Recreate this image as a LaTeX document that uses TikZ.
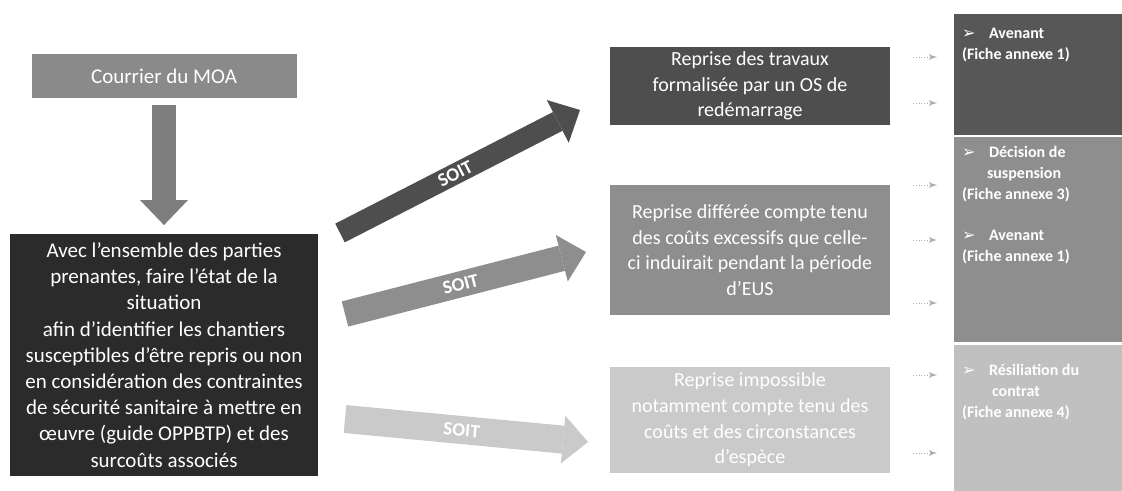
\documentclass[tikz,border=0pt]{standalone}
\usepackage{fontspec}
\setmainfont{Carlito}
\newfontfamily\symfont{DejaVu Sans}
\usetikzlibrary{positioning, arrows, arrows.meta}

\definecolor{moagray}{HTML}{8A8A8A}
\definecolor{downgray}{HTML}{7E7E7E}
\definecolor{maindark}{HTML}{2B2B2B}
\definecolor{soitdark}{HTML}{4E4E4E}
\definecolor{soitmid}{HTML}{8E8E8E}
\definecolor{soitlight}{HTML}{CACACA}

\begin{document}
\begin{tikzpicture}[x=0.5pt, y=-0.5pt]
		% Styles
		\tikzstyle{box} = [rectangle, inner sep=0pt, text=white, align=center,
		font=\fontsize{10}{12.8}\selectfont]
		\tikzstyle{moabox} = [box, fill=moagray, minimum width=132.5pt, minimum height=22pt,
		font=\fontsize{10.5}{13}\selectfont]
		\tikzstyle{mainbox} = [box, fill=maindark, minimum width=154pt, minimum height=120.5pt,
		font=\fontsize{10.5}{13.1}\selectfont]
		\tikzstyle{midbox} = [box, minimum width=140pt]
		\tikzstyle{sidebox} = [rectangle, inner sep=0pt, minimum width=84pt]
		\tikzstyle{sidetext} = [inner sep=0pt, text=white, align=left,
		font=\bfseries\fontsize{8}{10.5}\selectfont]
		\tikzstyle{bigarrow} = [line width=12pt, -{Triangle[length=12.5pt, width=24pt, line width=0pt]}]
		\tikzstyle{soit} = [sloped, text=white, inner sep=0pt, font=\bfseries\fontsize{9.5}{10}\selectfont]
		\tikzstyle{dotline} = [draw=gray!65, densely dotted, -latex']
		\newcommand{\puce}{\makebox[13.5pt][l]{\symfont ➢}}
		
		\useasboundingbox (0,0) rectangle (1122,491);
		
		% Nodes
		\node [moabox] (moa) at (164,76) {Courrier du MOA};
		\node [mainbox] (main) at (164,355) {Avec l’ensemble des parties\\prenantes, faire l’état de la\\situation\\afin d’identifier les chantiers\\susceptibles d’être repris ou non\\en considération des contraintes\\de sécurité sanitaire à mettre en\\œuvre (guide OPPBTP) et des\\surcoûts associés};
		
		\node [midbox, fill=soitdark, minimum height=39pt] (reprise) at (750,86) {Reprise des travaux\\formalisée par un OS de\\redémarrage};
		\node [midbox, fill=soitmid, minimum height=65pt] (differee) at (750,250) {Reprise différée compte tenu\\des coûts excessifs que celle-\\ci induirait pendant la période\\d’EUS};
		\node [midbox, fill=soitlight, minimum height=53pt] (impossible) at (750,420) {Reprise impossible\\notamment compte tenu des\\coûts et des circonstances\\d’espèce};
		
		\node [sidebox, fill=soitdark!95, minimum height=60.5pt] (avenant) at (1038,74.5) {};
		\node [sidebox, fill=soitmid, minimum height=102.5pt] (suspension) at (1038,239.5) {};
		\node [sidebox, fill=soitlight!95!black, minimum height=73pt] (resiliation) at (1038,418) {};
		
		\node [sidetext, below right=7pt and 4pt of avenant.north west] (avenanttxt) {\puce Avenant\\(Fiche annexe 1)};
		\node [sidetext, below right=4.5pt and 4pt of suspension.north west] (suspensiontxt) {\puce Décision de\\\hspace*{12.5pt}suspension\\(Fiche annexe 3)\\[10pt]\puce Avenant\\(Fiche annexe 1)};
		\node [sidetext, below right=9.5pt and 4pt of resiliation.north west] (resiliationtxt) {\puce Résiliation du\\\hspace*{15pt}contrat\\(Fiche annexe 4)};
		
		\coordinate (d1) at (340,233);
		\coordinate (f1) at (580,110);
		\coordinate (d2) at (345,314);
		\coordinate (f2) at (586,252);
		\coordinate (d3) at (345,419);
		\coordinate (f3) at (588,442);
		
		% Connections
		\draw [bigarrow, draw=downgray, shorten <=3.5pt, shorten >=4.5pt] (moa) -- (main);
		\draw [bigarrow, draw=soitdark, line width=10.5pt] (d1) -- (f1) node [soit, pos=0.48] (soit1) {SOIT};
		\draw [bigarrow, draw=soitmid, line width=13pt] (d2) -- (f2) node [soit, pos=0.48] (soit2) {SOIT};
		\draw [bigarrow, draw=soitlight, line width=14pt] (d3) -- (f3) node [soit, pos=0.48] (soit3) {SOIT};
		
		\foreach \y [count=\i] in {57,103,185,240,303,375,453} {
			\coordinate (p\i) at (913,\y);
			\coordinate (q\i) at (937,\y);
			\path [dotline] (p\i) -- (q\i);
		}
	\end{tikzpicture}
\end{document}
